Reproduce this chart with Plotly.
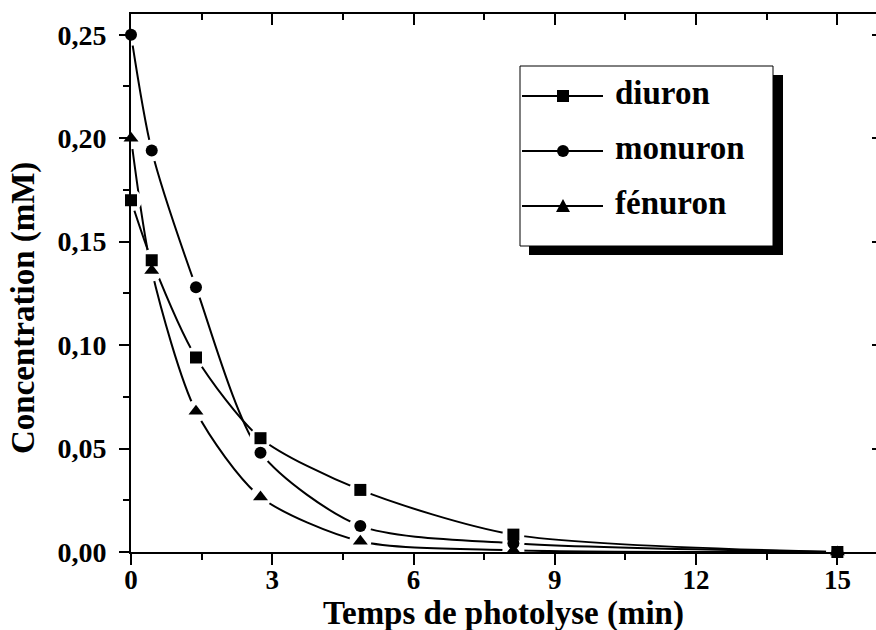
import plotly.graph_objects as go

# Photolysis kinetics of three phenylurea herbicides
time_min = [0, 0.44, 1.38, 2.75, 4.87, 8.12, 15]
diuron = [0.170, 0.141, 0.094, 0.055, 0.030, 0.0084, 0.0]
monuron = [0.250, 0.194, 0.128, 0.048, 0.0126, 0.0042, 0.0]
fenuron = [0.200, 0.136, 0.068, 0.0266, 0.0052, 0.0008, 0.0]

series_names = ["diuron", "monuron", "fénuron"]
series_values = [diuron, monuron, fenuron]
series_symbols = ["square", "circle", "triangle-up"]

x_ticks = [0, 3, 6, 9, 12, 15]
y_ticks = [0.00, 0.05, 0.10, 0.15, 0.20, 0.25]
x_title = "Temps de photolyse (min)"
y_title = "Concentration (mM)"

W, H = 876, 630
ML, MR, MT, MB = 131, 0, 14, 78
PW, PH = W - ML - MR, H - MT - MB
X_RANGE = [0, 15.82]
Y_RANGE = [0, 0.26]

FONT = "Liberation Serif, Times New Roman, serif"


def px(xp):
    return (xp - ML) / PW


def py(yp):
    return (H - MB - yp) / PH


fig = go.Figure()

# smoothed curves through the measurements
for vals in series_values:
    fig.add_trace(go.Scatter(
        x=time_min, y=vals, mode="lines",
        line=dict(color="black", width=2, shape="spline", smoothing=0.75),
        hoverinfo="skip", showlegend=False))

# white halos so the curves break around the symbols
for vals in series_values:
    fig.add_trace(go.Scatter(
        x=time_min, y=vals, mode="markers",
        marker=dict(symbol="circle", size=22, color="white"),
        hoverinfo="skip", showlegend=False))

# data symbols
for name, vals, sym in zip(series_names, series_values, series_symbols):
    fig.add_trace(go.Scatter(
        x=time_min, y=vals, mode="markers", name=name,
        marker=dict(symbol=sym, size=13 if sym == "triangle-up" else 12,
                    color="black", line=dict(width=0)),
        cliponaxis=False, showlegend=False))

# dummy traces to attach the mirrored top / right axes
fig.add_trace(go.Scatter(x=[None], y=[None], xaxis="x2", yaxis="y",
                         showlegend=False, hoverinfo="skip"))
fig.add_trace(go.Scatter(x=[None], y=[None], xaxis="x", yaxis="y2",
                         showlegend=False, hoverinfo="skip"))

tickfont = dict(family=FONT, size=27, color="black", weight="bold")

fig.update_layout(
    width=W, height=H,
    margin=dict(l=ML, r=MR, t=MT, b=MB, pad=0),
    paper_bgcolor="white", plot_bgcolor="white",
    separators=", ",
    showlegend=False,
    xaxis=dict(
        range=X_RANGE, tickvals=x_ticks, ticktext=[str(v) for v in x_ticks],
        ticks="outside", ticklen=11, tickwidth=2, tickcolor="black",
        minor=dict(ticks="outside", dtick=1.5, tick0=0, ticklen=6,
                   tickwidth=2, tickcolor="black"),
        showline=True, linecolor="black", linewidth=2,
        showgrid=False, zeroline=False, tickfont=tickfont,
        ticklabelstandoff=-8, layer="above traces"),
    yaxis=dict(
        range=Y_RANGE, tickvals=y_ticks, tickformat=".2f",
        ticks="outside", ticklen=10, tickwidth=2, tickcolor="black",
        minor=dict(ticks="outside", dtick=0.025, tick0=0, ticklen=6,
                   tickwidth=2, tickcolor="black"),
        showline=True, linecolor="black", linewidth=2,
        showgrid=False, zeroline=False,
        tickfont=dict(family=FONT, size=28, color="black", weight="bold"),
        ticklabelstandoff=7, layer="above traces"),
    xaxis2=dict(
        range=X_RANGE, overlaying="x", side="top", anchor="y",
        tickvals=x_ticks, showticklabels=False,
        ticks="inside", ticklen=11, tickwidth=2, tickcolor="black",
        minor=dict(ticks="inside", dtick=1.5, tick0=0, ticklen=6,
                   tickwidth=2, tickcolor="black"),
        showline=True, linecolor="black", linewidth=2,
        showgrid=False, zeroline=False, layer="above traces"),
    yaxis2=dict(
        range=Y_RANGE, overlaying="y", side="right", anchor="x",
        tickvals=y_ticks, showticklabels=False,
        ticks="inside", ticklen=4, tickwidth=2, tickcolor="black",
        showline=False, showgrid=False, zeroline=False,
        layer="above traces"),
)

# axis titles
fig.add_annotation(
    text=x_title, xref="paper", yref="paper", x=0.5, y=py(613),
    xanchor="center", yanchor="middle", showarrow=False,
    font=dict(family=FONT, size=33, color="black", weight="bold"))
fig.add_annotation(
    text=y_title, xref="paper", yref="paper", x=px(23), y=py(308),
    xanchor="center", yanchor="middle", textangle=-90, showarrow=False,
    font=dict(family=FONT, size=33, color="black", weight="bold"))

# legend box with drop shadow
shapes = [
    dict(type="rect", xref="paper", yref="paper",
         x0=px(529), x1=px(783), y0=py(255), y1=py(75),
         fillcolor="black", line=dict(width=0), layer="above"),
    dict(type="rect", xref="paper", yref="paper",
         x0=px(520), x1=px(773), y0=py(246), y1=py(66),
         fillcolor="white", line=dict(color="black", width=1), layer="above"),
]
row_y = [96, 151, 206]
cx = 563
for name, sym, ry in zip(series_names, series_symbols, row_y):
    shapes.append(dict(type="line", xref="paper", yref="paper",
                       x0=px(522), x1=px(603), y0=py(ry), y1=py(ry),
                       line=dict(color="black", width=2), layer="above"))
    if sym == "square":
        shapes.append(dict(type="rect", xref="paper", yref="paper",
                           x0=px(cx - 6), x1=px(cx + 6), y0=py(ry + 6), y1=py(ry - 6),
                           fillcolor="black", line=dict(width=0), layer="above"))
    elif sym == "circle":
        shapes.append(dict(type="circle", xref="paper", yref="paper",
                           x0=px(cx - 6), x1=px(cx + 6), y0=py(ry + 6), y1=py(ry - 6),
                           fillcolor="black", line=dict(width=0), layer="above"))
    else:
        path = "M {:.5f} {:.5f} L {:.5f} {:.5f} L {:.5f} {:.5f} Z".format(
            px(cx - 7), py(ry + 6), px(cx + 7), py(ry + 6), px(cx), py(ry - 7))
        shapes.append(dict(type="path", xref="paper", yref="paper", path=path,
                           fillcolor="black", line=dict(width=0), layer="above"))
    fig.add_annotation(
        text=name, xref="paper", yref="paper", x=px(613), y=py(ry - 3),
        xanchor="left", yanchor="middle", showarrow=False,
        font=dict(family=FONT, size=33, color="black", weight="bold"))

fig.update_layout(shapes=shapes)

fig.write_html("out.html")
